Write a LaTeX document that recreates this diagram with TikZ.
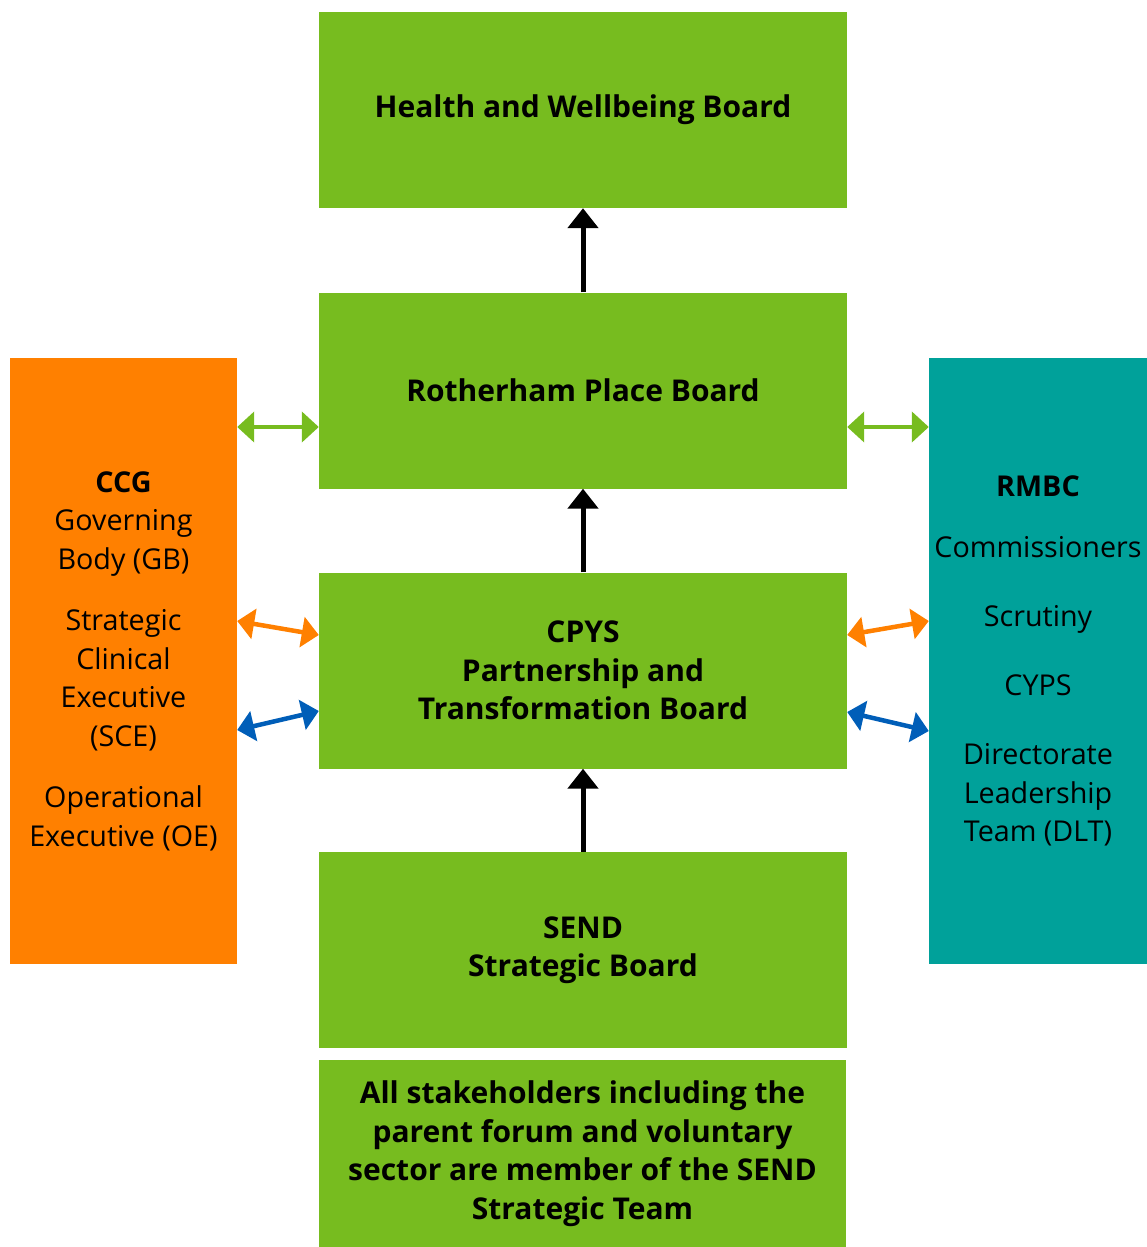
\documentclass[tikz,border=0pt]{standalone}
\usepackage{fontspec}
\setmainfont{Open Sans}
\usepackage{tikz}
\usetikzlibrary{arrows.meta}
\definecolor{boardgreen}{HTML}{77BC1F}
\definecolor{ccgorange}{HTML}{FF8000}
\definecolor{rmbcteal}{HTML}{00A19A}
\definecolor{linkblue}{HTML}{005EB8}

\begin{document}
\begin{tikzpicture}[x=1pt,y=-1pt,
  board/.style={fill=boardgreen, inner sep=0pt, minimum width=528pt, minimum height=196pt,
    align=center, font=\fontsize{30}{38.5}\selectfont\bfseries},
  side/.style={inner sep=0pt, minimum height=606pt, align=center,
    font=\fontsize{28.7}{38.5}\selectfont},
  up/.style={-{Triangle[length=20pt,width=30pt]}, line width=5pt},
  link/.style={{Triangle[length=17pt,width=30pt]}-{Triangle[length=17pt,width=30pt]}, line width=4.5pt}]
  \useasboundingbox (0,0) rectangle (1147,1247);

  % boards down the middle
  \node[board] (hwb) at (583,110) {Health and Wellbeing Board};
  \node[board] (rpb) at (583,390.5) {Rotherham Place Board};
  \node[board] (cpys) at (583,670.5) {CPYS\\Partnership and\\Transformation Board};
  \node[board] (send) at (583,950) {SEND\\Strategic Board};
  \node[board, minimum width=527pt, minimum height=187pt] (team) at (582.5,1153.5)
    {All stakeholders including the\\parent forum and voluntary\\sector are member of the SEND\\Strategic Team};

  % side columns
  \node[side, fill=ccgorange, minimum width=227pt] (ccg) at (123.5,661)
    {\textbf{CCG}\\Governing\\Body (GB)\\[23pt]Strategic\\Clinical\\Executive\\(SCE)\\[23pt]Operational\\Executive (OE)};
  \node[side, fill=rmbcteal, minimum width=218pt] (rmbc) at (1038,661)
    {\textbf{RMBC}\\[23pt]Commissioners\\[30.5pt]Scrutiny\\[30.5pt]CYPS\\[30.5pt]Directorate\\Leadership\\Team (DLT)};

  % reporting lines
  \draw[up] (send.north) -- (cpys.south);
  \draw[up] (cpys.north) -- (rpb.south);
  \draw[up] (rpb.north) -- (hwb.south);

  % links to the sides
  \draw[link, boardgreen] (ccg.east |- 0,427) -- (rpb.west |- 0,427);
  \draw[link, boardgreen] (rpb.east |- 0,427) -- (rmbc.west |- 0,427);
  \draw[link, ccgorange] (ccg.east |- 0,621) -- (cpys.west |- 0,635);
  \draw[link, ccgorange] (cpys.east |- 0,635) -- (rmbc.west |- 0,621);
  \draw[link, linkblue] (ccg.east |- 0,730) -- (cpys.west |- 0,711);
  \draw[link, linkblue] (cpys.east |- 0,712) -- (rmbc.west |- 0,731);

\end{tikzpicture}
\end{document}
